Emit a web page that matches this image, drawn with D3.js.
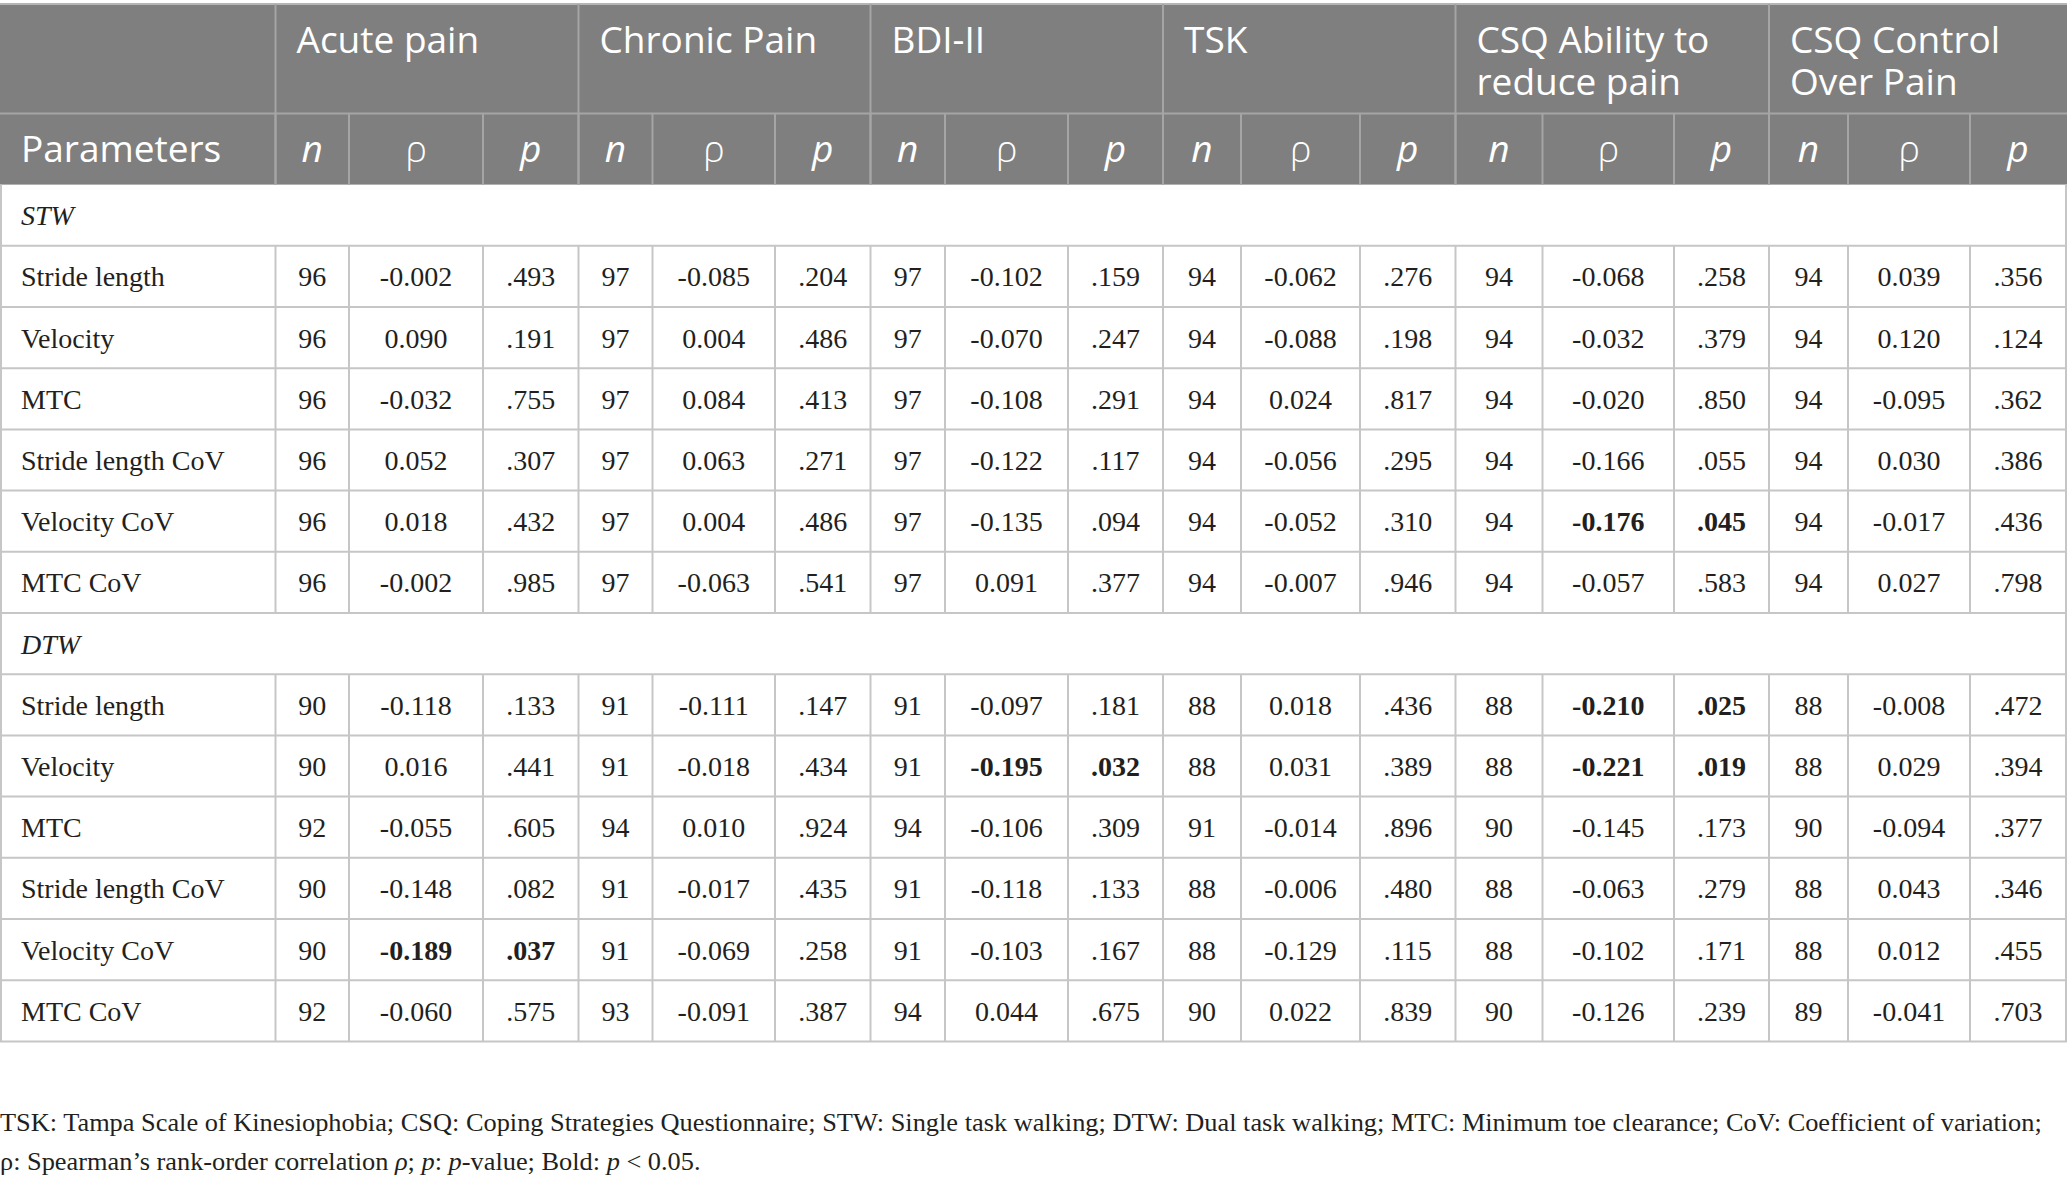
<!DOCTYPE html>
<html>
<head>
<meta charset="utf-8">
<script src="https://cdn.jsdelivr.net/npm/d3@7"></script>
<style>
  html, body { margin: 0; padding: 0; background: #ffffff; }
  svg { display: block; }
</style>
</head>
<body>
<svg id="chart" width="2067" height="1184"></svg>
<script>
// ---------------- DATA ----------------
const groups = [["Acute pain"], ["Chronic Pain"], ["BDI-II"], ["TSK"], ["CSQ Ability to", "reduce pain"], ["CSQ Control", "Over Pain"]];
const subHeaders = ["n", "ρ", "p"];
const firstHeader = "Parameters";
const sections = ["STW", "DTW"];
const rowLabels = ["Stride length", "Velocity", "MTC", "Stride length CoV", "Velocity CoV", "MTC CoV"];

// STW: rows x groups
const stwN = [
  [96, 97, 97, 94, 94, 94],
  [96, 97, 97, 94, 94, 94],
  [96, 97, 97, 94, 94, 94],
  [96, 97, 97, 94, 94, 94],
  [96, 97, 97, 94, 94, 94],
  [96, 97, 97, 94, 94, 94]
];
const stwRho = [
  ["-0.002", "-0.085", "-0.102", "-0.062", "-0.068", "0.039"],
  ["0.090", "0.004", "-0.070", "-0.088", "-0.032", "0.120"],
  ["-0.032", "0.084", "-0.108", "0.024", "-0.020", "-0.095"],
  ["0.052", "0.063", "-0.122", "-0.056", "-0.166", "0.030"],
  ["0.018", "0.004", "-0.135", "-0.052", "-0.176", "-0.017"],
  ["-0.002", "-0.063", "0.091", "-0.007", "-0.057", "0.027"]
];
const stwP = [
  [".493", ".204", ".159", ".276", ".258", ".356"],
  [".191", ".486", ".247", ".198", ".379", ".124"],
  [".755", ".413", ".291", ".817", ".850", ".362"],
  [".307", ".271", ".117", ".295", ".055", ".386"],
  [".432", ".486", ".094", ".310", ".045", ".436"],
  [".985", ".541", ".377", ".946", ".583", ".798"]
];
// DTW
const dtwN = [
  [90, 91, 91, 88, 88, 88],
  [90, 91, 91, 88, 88, 88],
  [92, 94, 94, 91, 90, 90],
  [90, 91, 91, 88, 88, 88],
  [90, 91, 91, 88, 88, 88],
  [92, 93, 94, 90, 90, 89]
];
const dtwRho = [
  ["-0.118", "-0.111", "-0.097", "0.018", "-0.210", "-0.008"],
  ["0.016", "-0.018", "-0.195", "0.031", "-0.221", "0.029"],
  ["-0.055", "0.010", "-0.106", "-0.014", "-0.145", "-0.094"],
  ["-0.148", "-0.017", "-0.118", "-0.006", "-0.063", "0.043"],
  ["-0.189", "-0.069", "-0.103", "-0.129", "-0.102", "0.012"],
  ["-0.060", "-0.091", "0.044", "0.022", "-0.126", "-0.041"]
];
const dtwP = [
  [".133", ".147", ".181", ".436", ".025", ".472"],
  [".441", ".434", ".032", ".389", ".019", ".394"],
  [".605", ".924", ".309", ".896", ".173", ".377"],
  [".082", ".435", ".133", ".480", ".279", ".346"],
  [".037", ".258", ".167", ".115", ".171", ".455"],
  [".575", ".387", ".675", ".839", ".239", ".703"]
];
const significance = 0.05;

// ---------------- LAYOUT ----------------
const W = 2067;
const colEdges = [0, 275.5, 349, 483, 578.5, 652.5, 775, 870.5, 945, 1068, 1163, 1241, 1360, 1455.5, 1542.5, 1674, 1769, 1848, 1970, 2066];
const tableTop = 4, head1Bottom = 113.5, head2Bottom = 184.6, tableBottom = 1041.4;
const headFill = "#7f7f7f", headLine = "#a5a5a5", gridLine = "#c6c6c6";
const sansFont = "'Open Sans', 'Noto Sans', sans-serif";
const serifFont = "'Liberation Serif', 'Times New Roman', serif";
const padL = 21;

const svg = d3.select("#chart");

// build row model
const rows = [];
[[stwN, stwRho, stwP], [dtwN, dtwRho, dtwP]].forEach((sec, si) => {
  rows.push({ type: "section", label: sections[si] });
  rowLabels.forEach((lab, ri) => {
    const cells = [];
    groups.forEach((g, gi) => {
      const sig = +sec[2][ri][gi] < significance;
      cells.push({ text: String(sec[0][ri][gi]), bold: false });
      cells.push({ text: sec[1][ri][gi], bold: sig });
      cells.push({ text: sec[2][ri][gi], bold: sig });
    });
    rows.push({ type: "data", label: lab, cells });
  });
});

const y = d3.scaleBand().domain(d3.range(rows.length)).range([head2Bottom, tableBottom]).padding(0);
const colX = i => colEdges[i];
const colMid = i => (colEdges[i] + colEdges[i + 1]) / 2;

// ---------------- HEADER ----------------
svg.append("rect").attr("x", 0).attr("y", tableTop).attr("width", colEdges[colEdges.length - 1] + 1)
  .attr("height", head2Bottom - tableTop).attr("fill", headFill);
svg.append("line").attr("x1", 0).attr("x2", colEdges[colEdges.length - 1] + 1)
  .attr("y1", tableTop).attr("y2", tableTop).attr("stroke", "#b5b5b5").attr("stroke-width", 2);

// header row1 group boundaries
const groupStarts = groups.map((g, gi) => 1 + gi * 3);
groupStarts.forEach(ci => {
  svg.append("line").attr("x1", colX(ci)).attr("x2", colX(ci)).attr("y1", tableTop).attr("y2", head2Bottom)
    .attr("stroke", headLine).attr("stroke-width", 2);
});
svg.append("line").attr("x1", 0).attr("x2", colEdges[colEdges.length - 1] + 1).attr("y1", head1Bottom).attr("y2", head1Bottom)
  .attr("stroke", headLine).attr("stroke-width", 2);
// header row2 all column lines
d3.range(1, colEdges.length - 1).forEach(ci => {
  svg.append("line").attr("x1", colX(ci)).attr("x2", colX(ci)).attr("y1", head1Bottom).attr("y2", head2Bottom)
    .attr("stroke", headLine).attr("stroke-width", 2);
});

groups.forEach((g, gi) => {
  const t = svg.append("text").attr("x", colX(groupStarts[gi]) + padL).attr("y", 53)
    .attr("font-family", sansFont).attr("font-size", 37).attr("fill", "#ffffff");
  g.forEach((line, li) => {
    t.append("tspan").attr("x", colX(groupStarts[gi]) + padL).attr("y", 53 + li * 42).text(line);
  });
});
const h2y = 162;
svg.append("text").attr("x", padL).attr("y", h2y).attr("font-family", sansFont).attr("font-size", 37)
  .attr("fill", "#ffffff").text(firstHeader);
groups.forEach((g, gi) => {
  subHeaders.forEach((s, si) => {
    const ci = groupStarts[gi] + si;
    svg.append("text").attr("x", colMid(ci)).attr("y", h2y).attr("text-anchor", "middle")
      .attr("font-family", sansFont).attr("font-size", 37)
      .attr("font-style", s === "ρ" ? "normal" : "italic")
      .attr("font-weight", s === "ρ" ? 300 : 400)
      .attr("fill", "#ffffff").text(s);
  });
});

// ---------------- BODY ----------------
const right = colEdges[colEdges.length - 1];
rows.forEach((r, i) => {
  const top = y(i), bot = y(i) + y.bandwidth(), mid = top + y.bandwidth() / 2;
  // horizontal bottom line
  svg.append("line").attr("x1", 0).attr("x2", right + 1).attr("y1", bot).attr("y2", bot)
    .attr("stroke", gridLine).attr("stroke-width", 2);
  // outer verticals
  [1, right].forEach(xx => svg.append("line").attr("x1", xx).attr("x2", xx).attr("y1", top).attr("y2", bot)
    .attr("stroke", gridLine).attr("stroke-width", 2));
  if (r.type === "section") {
    svg.append("text").attr("x", padL).attr("y", mid + 10).attr("font-family", serifFont)
      .attr("font-size", 28).attr("font-style", "italic").attr("fill", "#231f20").text(r.label);
  } else {
    d3.range(1, colEdges.length - 1).forEach(ci => {
      svg.append("line").attr("x1", colX(ci)).attr("x2", colX(ci)).attr("y1", top).attr("y2", bot)
        .attr("stroke", gridLine).attr("stroke-width", 2);
    });
    svg.append("text").attr("x", padL).attr("y", mid + 10).attr("font-family", serifFont)
      .attr("font-size", 28).attr("fill", "#231f20").text(r.label);
    r.cells.forEach((c, k) => {
      svg.append("text").attr("x", colMid(k + 1)).attr("y", mid + 10).attr("text-anchor", "middle")
        .attr("font-family", serifFont).attr("font-size", 28)
        .attr("font-weight", c.bold ? "bold" : "normal")
        .attr("fill", "#231f20").text(c.text);
    });
  }
});

// ---------------- FOOTNOTE ----------------
const foot1 = [["TSK: Tampa Scale of Kinesiophobia; CSQ: Coping Strategies Questionnaire; STW: Single task walking; DTW: Dual task walking; MTC: Minimum toe clearance; CoV: Coefficient of variation;", false]];
const foot2 = [["ρ: Spearman’s rank-order correlation ", false], ["ρ", true], ["; ", false], ["p", true], [": ", false], ["p", true], ["-value; Bold: ", false], ["p", true], [" < 0.05.", false]];
const fg = svg.append("g");
const f1 = fg.append("text").attr("x", 0).attr("y", 1131).attr("font-family", serifFont).attr("font-size", 25).attr("fill", "#231f20");
foot1.forEach(([t, it]) => f1.append("tspan").attr("font-style", it ? "italic" : "normal").text(t));
const f2 = fg.append("text").attr("x", 0).attr("y", 1170).attr("font-family", serifFont).attr("font-size", 25).attr("fill", "#231f20");
foot2.forEach(([t, it]) => f2.append("tspan").attr("font-style", it ? "italic" : "normal").text(t));
const len1 = f1.node().getComputedTextLength();
const sx = 2043 / len1;
fg.attr("transform", `scale(${sx},1)`);
</script>
</body>
</html>
